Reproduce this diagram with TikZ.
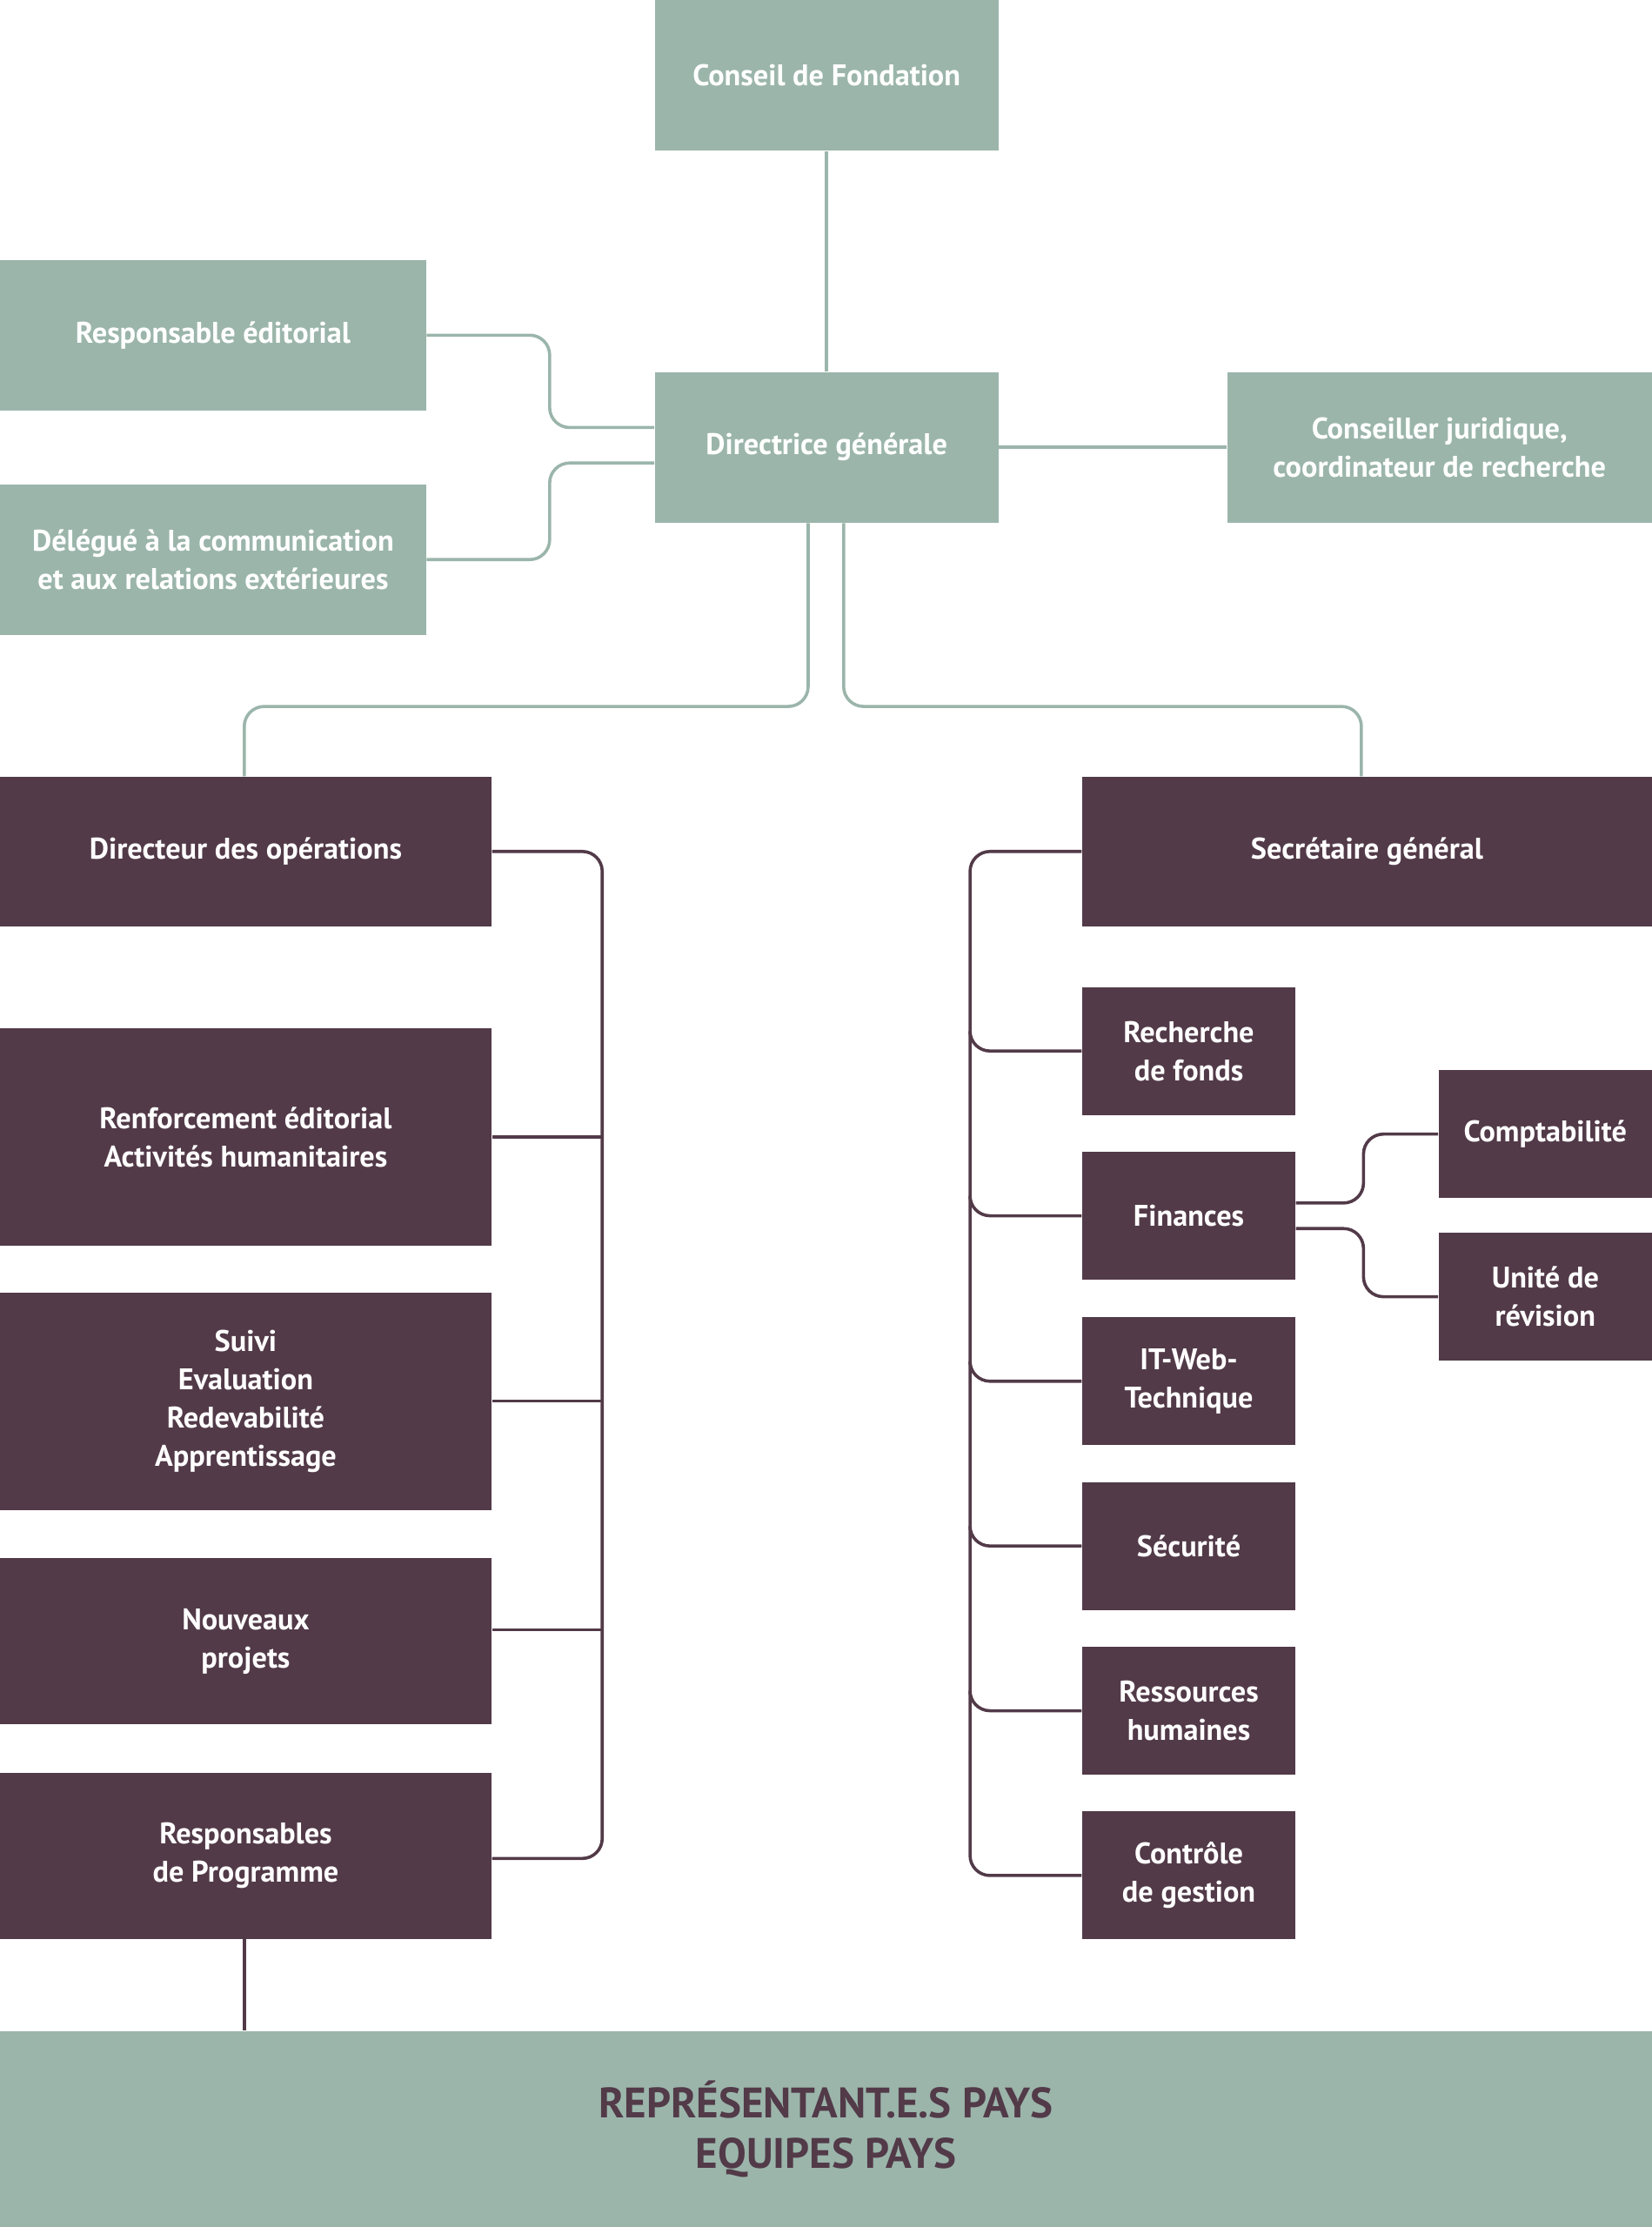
\documentclass[tikz,border=0pt]{standalone}
\usepackage{fontspec}
\setmainfont{PT Sans}
\definecolor{gr}{HTML}{9BB5AB}
\definecolor{pu}{HTML}{523A48}
\begin{document}
\begin{tikzpicture}[x=0.5pt,y=-0.5pt,
 box/.style={inner sep=0pt,align=center,text=white,font=\bfseries\fontsize{10.5}{13.5}\selectfont},
 gb/.style={box,fill=gr},
 pb/.style={box,fill=pu},
 gl/.style={draw=gr,line width=1.1pt,rounded corners=7pt},
 pl/.style={draw=pu,line width=1.1pt,rounded corners=7pt}]
\useasboundingbox (0,0) rectangle (1163,1568);
\node[gb,minimum width=121pt,minimum height=53pt] (cf) at (582,53) {Conseil de Fondation};
\node[gb,minimum width=150pt,minimum height=53pt] (ed) at (150,236) {Responsable éditorial};
\node[gb,minimum width=121pt,minimum height=53pt] (dg) at (582,315) {Directrice générale};
\node[gb,minimum width=150pt,minimum height=53pt] (de) at (150,394) {Délégué à la communication\\et aux relations extérieures};
\node[gb,minimum width=149.5pt,minimum height=53pt] (cj) at (1013.5,315) {Conseiller juridique,\\coordinateur de recherche};
\node[pb,minimum width=173pt,minimum height=52.5pt] (do) at (173,599.5) {Directeur des opérations};
\node[pb,minimum width=173pt,minimum height=76.5pt] (rf) at (173,800.5) {Renforcement éditorial\\Activités humanitaires};
\node[pb,minimum width=173pt,minimum height=76.5pt] (su) at (173,986.5) {Suivi\\Evaluation\\Redevabilité\\Apprentissage};
\node[pb,minimum width=173pt,minimum height=58.5pt] (np) at (173,1155.5) {Nouveaux\\projets};
\node[pb,minimum width=173pt,minimum height=58.5pt] (rp) at (173,1306.5) {Responsables\\de Programme};
\node[pb,minimum width=200.5pt,minimum height=52.5pt] (sg) at (962.5,599.5) {Secrétaire général};
\node[pb,minimum width=75pt,minimum height=45pt] (rc) at (837,740) {Recherche\\de fonds};
\node[pb,minimum width=75pt,minimum height=45pt] (fi) at (837,856) {Finances};
\node[pb,minimum width=75pt,minimum height=45pt] (it) at (837,972.5) {IT-Web-\\Technique};
\node[pb,minimum width=75pt,minimum height=45pt] (se) at (837,1088.5) {Sécurité};
\node[pb,minimum width=75pt,minimum height=45pt] (rh) at (837,1204.5) {Ressources\\humaines};
\node[pb,minimum width=75pt,minimum height=45pt] (ct) at (837,1320.5) {Contrôle\\de gestion};
\node[pb,minimum width=75pt,minimum height=45pt] (co) at (1088,798.5) {Comptabilité};
\node[pb,minimum width=75pt,minimum height=45pt] (un) at (1088,913) {Unité de\\révision};
\node[fill=gr,inner sep=0pt,minimum width=581.5pt,minimum height=69pt,align=center,text=pu,font=\bfseries\fontsize{15}{18}\selectfont] (bot) at (581.5,1499) {REPRÉSENTANT.E.S PAYS\\EQUIPES PAYS};
\coordinate (lb) at (424,0);
\coordinate (rb) at (683,0);
\coordinate (gx) at (387,0);
\coordinate (fx) at (960,0);
% green connectors
\draw[gl] (cf) -- (dg);
\draw[gl] (ed.east) -- (ed.east -| gx) -- ([yshift=7pt]dg.west -| gx) -- ([yshift=7pt]dg.west);
\draw[gl] (de.east) -- (de.east -| gx) -- ([yshift=-5.5pt]dg.west -| gx) -- ([yshift=-5.5pt]dg.west);
\draw[gl] (dg) -- (cj);
\draw[gl] ([xshift=-6.5pt]dg.south) -- ++(0,-64.5pt) -| ([xshift=-0.5pt]do.north);
\draw[gl] ([xshift=6pt]dg.south) -- ++(0,-64.5pt) -| ([xshift=-2pt]sg.north);
% purple left
\draw[pl] (do.east) -- (do.east -| lb) -- ([yshift=-1pt]rp.east -| lb) -- ([yshift=-1pt]rp.east);
\draw[pl,rounded corners=0pt] (rf.east) -- (rf.east -| lb);
\draw[pl,rounded corners=0pt] (su.east) -- (su.east -| lb);
\draw[pl,rounded corners=0pt] ([yshift=4pt]np.east) -- ([yshift=4pt]np.east -| lb);
% purple right
\draw[pl] (sg.west) -- (sg.west -| rb) -- (ct.west -| rb) -- (ct.west);
\foreach \n in {rc,fi,it,se,rh}{
 \draw[pl] ([yshift=6pt]\n.west -| rb) -- ++(0,-6pt) -- (\n.west);}
\draw[pl] ([yshift=4.5pt]fi.east) -- ([yshift=4.5pt]fi.east -| fx) -- (co.west -| fx) -- (co.west);
\draw[pl] ([yshift=-4.5pt]fi.east) -- ([yshift=-4.5pt]fi.east -| fx) -- (un.west -| fx) -- (un.west);
\draw[pl] ([xshift=-0.5pt]rp.south) -- ([xshift=-0.5pt]rp.south |- bot.north);
\end{tikzpicture}
\end{document}
